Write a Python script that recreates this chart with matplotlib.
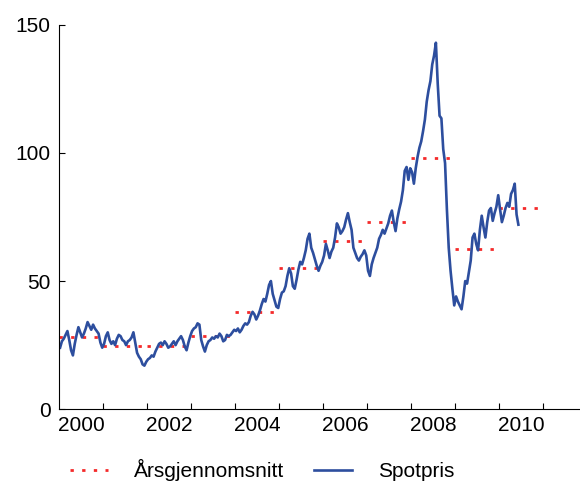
import numpy as np
import matplotlib
matplotlib.use('Agg')
import matplotlib.pyplot as plt

# spot price, two readings per month (USD per barrel)
spot_2000 = [24.0, 26.5, 27.5, 29.0, 30.5, 27.0, 23.0, 21.0, 25.5, 29.0, 32.0, 30.0,
             28.0, 29.5, 31.5, 34.0, 32.5, 31.0, 33.0, 31.5, 30.5, 29.5, 26.0, 24.0]
spot_2001 = [25.5, 28.5, 30.0, 27.0, 25.5, 26.5, 25.0, 27.5, 29.0, 28.5, 27.0, 26.5,
             25.0, 26.5, 27.0, 28.0, 30.0, 26.0, 22.0, 20.5, 19.5, 17.5, 17.0, 18.5]
spot_2002 = [19.5, 20.0, 21.0, 20.5, 22.5, 24.0, 25.5, 26.0, 25.0, 26.5, 25.5, 24.0,
             24.5, 25.5, 26.5, 25.0, 26.5, 27.5, 28.5, 27.0, 24.5, 23.0, 26.0, 28.5]
spot_2003 = [30.5, 31.5, 32.0, 33.5, 33.0, 27.0, 24.5, 22.5, 25.0, 26.5, 27.0, 28.0,
             27.5, 28.5, 28.0, 29.5, 28.5, 26.5, 27.0, 29.0, 28.5, 29.0, 30.0, 31.0]
spot_2004 = [30.5, 31.5, 30.0, 31.0, 32.5, 33.5, 33.0, 34.0, 36.5, 38.0, 37.0, 35.0,
             36.5, 38.5, 41.0, 43.0, 42.0, 45.0, 48.5, 50.0, 45.0, 42.5, 40.0, 39.5]
spot_2005 = [43.0, 45.5, 46.0, 48.0, 52.0, 55.0, 53.0, 48.0, 47.0, 50.5, 54.5, 57.5,
             56.5, 59.0, 62.0, 66.5, 68.5, 63.0, 61.0, 58.5, 56.0, 54.0, 56.0, 57.5]
spot_2006 = [60.0, 64.5, 62.0, 59.0, 61.5, 63.0, 67.0, 72.5, 71.0, 68.5, 69.5, 71.0,
             74.0, 76.5, 73.0, 70.0, 63.0, 61.0, 59.0, 58.0, 59.5, 60.5, 62.0, 60.0]
spot_2007 = [54.0, 52.0, 56.5, 59.0, 61.0, 63.0, 66.5, 68.0, 70.0, 68.5, 70.5, 72.5,
             75.5, 77.5, 73.0, 69.5, 74.5, 78.0, 81.0, 85.5, 93.0, 94.5, 89.5, 94.0]
spot_2008 = [92.5, 88.0, 94.0, 98.5, 102.0, 104.5, 108.5, 113.0, 120.0, 124.5, 128.0, 134.5,
             138.0, 143.0, 127.0, 114.5, 113.5, 101.5, 96.0, 78.0, 63.0, 54.0, 47.0, 40.5]
spot_2009 = [44.0, 42.0, 40.5, 39.0, 44.0, 50.0, 49.0, 53.5, 58.0, 67.0, 68.5, 64.5,
             62.0, 70.0, 75.5, 71.0, 67.0, 73.0, 77.5, 78.5, 73.5, 76.5, 79.0, 83.5]
spot_2010 = [78.0, 73.0, 75.5, 78.5, 80.5, 79.0, 84.0, 85.5, 88.0, 76.0, 72.0]

years = [2000, 2001, 2002, 2003, 2004, 2005, 2006, 2007, 2008, 2009, 2010]
year_avg = [28.2, 24.6, 24.8, 28.4, 38.0, 55.0, 65.7, 73.0, 98.0, 62.5, 78.5]
year_labels = ['2000', '2002', '2004', '2006', '2008', '2010']

spot = spot_2000 + spot_2001 + spot_2002 + spot_2003 + spot_2004 + spot_2005 + \
       spot_2006 + spot_2007 + spot_2008 + spot_2009 + spot_2010
t = 2000 + (np.arange(len(spot)) + 0.5) / 24.0

plt.rcParams['font.family'] = ['Liberation Sans', 'DejaVu Sans']
plt.rcParams['font.size'] = 15

fig = plt.figure(figsize=(5.8, 4.86), dpi=100)
ax = fig.add_axes([0.102, 0.158, 0.905, 0.791])

red = '#f42a2a'
blue = '#2d4e9e'
for i, y in enumerate(years):
    ax.plot([y, y + 1], [year_avg[i], year_avg[i]], color=red, lw=2.0,
            linestyle=(0, (1.2, 3.0)), dash_capstyle='butt',
            label='Årsgjennomsnitt' if i == 0 else None)
ax.plot(t, spot, color=blue, lw=1.9, label='Spotpris')

ax.set_xlim(2000, 2011.93)
ax.set_ylim(0, 150)
ax.set_yticks([0, 50, 100, 150])
ax.set_xticks(np.arange(2001, 2012))
ax.set_xticklabels([])
ax.set_xticks([y + 0.5 for y in years[::2]], minor=True)
ax.set_xticklabels(year_labels, minor=True)
ax.tick_params(axis='x', which='major', direction='in', length=4, width=0.8)
ax.tick_params(axis='x', which='minor', length=0, pad=5)
ax.tick_params(axis='y', direction='in', length=4, width=0.8, pad=6)
ax.spines['top'].set_visible(False)
ax.spines['right'].set_visible(False)

fig.legend(loc='center', bbox_to_anchor=(0.452, 0.033), ncol=2, frameon=False,
           handlelength=1.8, handletextpad=1.25, columnspacing=1.45)

fig.savefig('out.png', dpi=100)
